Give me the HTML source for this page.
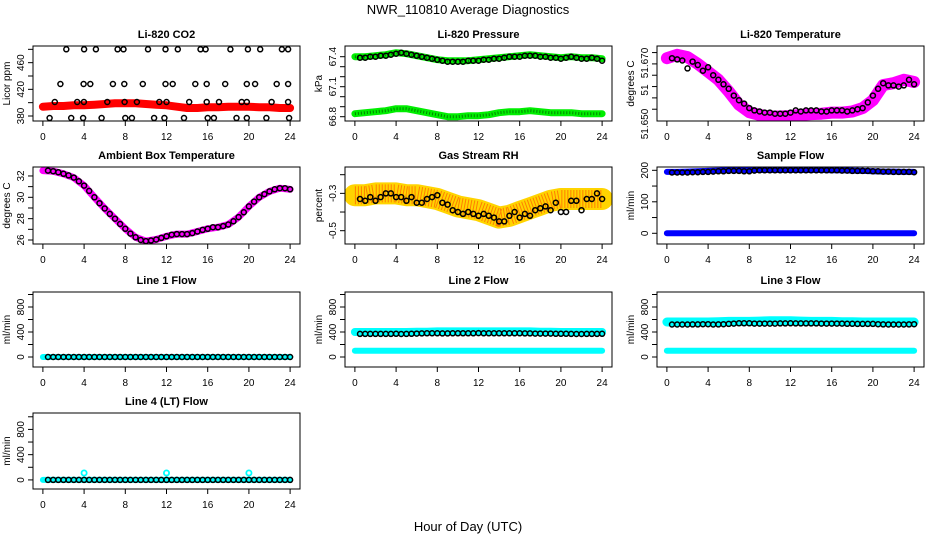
<!DOCTYPE html>
<html><head><meta charset="utf-8">
<style>
html,body{margin:0;padding:0;background:#fff;}
svg{display:block;font-family:"Liberation Sans",sans-serif;}
</style></head>
<body>
<svg id="chart" width="936" height="540" viewBox="0 0 936 540" xmlns="http://www.w3.org/2000/svg">
<text x="468" y="14" font-size="13" text-anchor="middle">NWR_110810  Average Diagnostics</text>
<text x="468" y="531" font-size="13" text-anchor="middle">Hour of Day (UTC)</text>
</svg>
<script>
// ---- data (hour-of-day values) ----
const hourTicks = [0,4,8,12,16,20,24];
const bandHours = [0,1,2,3,4,5,6,7,8,9,10,11,12,13,14,15,16,17,18,19,20,21,22,23,24];
const meanHours = [0.5,1,1.5,2,2.5,3,3.5,4,4.5,5,5.5,6,6.5,7,7.5,8,8.5,9,9.5,10,10.5,11,11.5,12,12.5,13,13.5,14,14.5,15,15.5,16,16.5,17,17.5,18,18.5,19,19.5,20,20.5,21,21.5,22,22.5,23,23.5,24];

const co2Band = [394,395,395,396,396,397,398,399,399,399,398,397,396,394,392,392,393,393,394,394,394,393,393,392,392];
const co2MeanHours = [2.27,4.0,5.15,7.25,7.83,10.2,11.9,13.1,15.3,15.8,18.2,19.9,21.1,23.2,23.8, 1.7,3.95,4.6,6.8,7.9,9.7,11.9,12.6,14.8,15.9,17.7,19.8,20.6,22.7,23.8, 1.16,3.33,3.98,6.25,7.93,9.13,11.3,12.0,14.2,15.9,17.1,19.3,19.8,22.2,23.8, 0.65,2.75,3.9,5.7,8.0,8.64,10.8,11.8,13.7,16.0,16.6,18.8,19.8,21.7,23.9];
const co2Mean = [480,480,480,480,480,480,480,480,480,480,480,480,480,480,480, 428,428,428,428,428,428,428,428,428,428,428,428,428,428,428, 401,401,401,401,401,401,401,401,401,401,401,401,401,401,401, 377,377,377,377,377,377,377,377,377,377,377,377,377,377,377];

const pressUpper = [67.40,67.40,67.41,67.42,67.44,67.43,67.41,67.39,67.37,67.36,67.36,67.36,67.37,67.38,67.39,67.40,67.41,67.42,67.41,67.40,67.39,67.40,67.39,67.39,67.38];
const pressLower = [66.83,66.84,66.85,66.86,66.88,66.88,66.86,66.84,66.82,66.80,66.80,66.81,66.81,66.82,66.84,66.85,66.85,66.86,66.85,66.84,66.84,66.84,66.83,66.83,66.83];
const pressMean = [67.39,67.39,67.40,67.40,67.41,67.41,67.42,67.43,67.44,67.43,67.42,67.41,67.40,67.39,67.38,67.37,67.36,67.35,67.35,67.35,67.35,67.36,67.36,67.36,67.37,67.37,67.38,67.38,67.39,67.40,67.40,67.40,67.41,67.41,67.41,67.40,67.40,67.39,67.39,67.38,67.39,67.40,67.39,67.38,67.38,67.39,67.38,67.36];

const tempBand = [51.6725,51.674,51.673,51.670,51.6665,51.663,51.6578,51.652,51.6487,51.6475,51.6468,51.6468,51.647,51.6475,51.6478,51.648,51.6485,51.6485,51.649,51.6505,51.654,51.6607,51.6615,51.663,51.662];
const tempMean = [51.6725,51.672,51.6715,51.668,51.671,51.6695,51.667,51.6685,51.665,51.663,51.661,51.659,51.656,51.654,51.6525,51.6505,51.6495,51.649,51.6485,51.6485,51.648,51.648,51.648,51.6485,51.6495,51.649,51.6495,51.6495,51.6495,51.649,51.649,51.6495,51.6495,51.6495,51.649,51.6495,51.650,51.6505,51.653,51.656,51.659,51.6615,51.6605,51.6605,51.660,51.6605,51.663,51.661];

const ambBand = [32.5,32.45,32.2,31.85,31.1,30.0,28.95,28.0,27.05,26.25,25.9,26.05,26.35,26.55,26.55,26.8,27.05,27.2,27.45,28.15,29.15,30.0,30.55,30.85,30.75];
const ambMean = [32.5,32.45,32.35,32.2,32.05,31.85,31.5,31.1,30.6,30.0,29.45,28.95,28.45,28.0,27.5,27.05,26.6,26.25,26.0,25.9,25.95,26.05,26.2,26.35,26.5,26.55,26.55,26.55,26.65,26.8,26.95,27.05,27.2,27.2,27.3,27.45,27.75,28.15,28.6,29.15,29.6,30.0,30.3,30.55,30.75,30.85,30.85,30.75];

const rhBand = [-0.31,-0.31,-0.30,-0.30,-0.30,-0.31,-0.31,-0.32,-0.33,-0.35,-0.37,-0.38,-0.39,-0.41,-0.43,-0.42,-0.40,-0.38,-0.36,-0.34,-0.33,-0.33,-0.33,-0.33,-0.33];
const rhMean = [-0.33,-0.34,-0.32,-0.34,-0.32,-0.30,-0.30,-0.32,-0.32,-0.34,-0.32,-0.35,-0.35,-0.33,-0.32,-0.31,-0.35,-0.36,-0.39,-0.40,-0.41,-0.40,-0.41,-0.42,-0.41,-0.42,-0.43,-0.45,-0.45,-0.42,-0.40,-0.43,-0.41,-0.42,-0.39,-0.38,-0.37,-0.39,-0.35,-0.40,-0.40,-0.34,-0.34,-0.39,-0.33,-0.33,-0.30,-0.33];

const sampleBand = [195,195,196,197,198,199,200,200,201,201,201,201,201,201,201,201,200,200,199,198,197,196,196,195,195];
const sampleZero = [0,0,0,0,0,0,0,0,0,0,0,0,0,0,0,0,0,0,0,0,0,0,0,0,0];
const sampleMean = [193,193,193,193,194,194,195,195,196,197,197,198,198,198,197,197,199,200,200,200,200,200,200,200,200,200,200,200,200,200,200,200,200,199,199,198,198,198,198,197,197,196,196,195,195,195,195,194];

const line1Band = [0,0,0,0,0,0,0,0,0,0,0,0,0,0,0,0,0,0,0,0,0,0,0,0,0];
const line1Mean = [0,0,0,0,0,0,0,0,0,0,0,0,0,0,0,0,0,0,0,0,0,0,0,0,0,0,0,0,0,0,0,0,0,0,0,0,0,0,0,0,0,0,0,0,0,0,0,0];
const line2Upper = [400,400,400,400,400,400,405,405,410,410,410,410,410,410,410,410,410,410,405,405,400,400,400,400,400];
const line2Lower = [100,100,100,100,100,100,100,100,100,100,100,100,100,100,100,100,100,100,100,100,100,100,100,100,100];
const line2Mean = [370,370,370,370,370,370,370,372,368,370,372,375,378,380,380,380,378,378,380,380,380,380,380,382,380,380,380,380,380,380,380,380,378,378,375,375,375,375,372,372,372,370,368,368,370,370,370,372];
const line3Upper = [560,560,560,560,560,565,570,570,570,575,580,580,580,575,570,570,570,565,565,560,560,560,560,560,560];
const line3Lower = [100,100,100,100,100,100,100,100,100,100,100,100,100,100,100,100,100,100,100,100,100,100,100,100,100];
const line3Mean = [520,520,520,520,522,522,525,525,520,522,525,530,535,540,540,540,535,535,535,535,535,538,538,540,538,538,538,538,538,535,535,535,535,535,532,532,530,530,530,530,525,522,520,520,520,520,522,525];
const line4Band = [0,0,0,0,0,0,0,0,0,0,0,0,0,0,0,0,0,0,0,0,0,0,0,0,0];
const line4Mean = [0,0,0,0,0,0,0,0,0,0,0,0,0,0,0,0,0,0,0,0,0,0,0,0,0,0,0,0,0,0,0,0,0,0,0,0,0,0,0,0,0,0,0,0,0,0,0,0];
const line4OutlierHours = [4,12,20];
const line4Outliers = [110,110,110];

// ---- drawing ----
const NS = "http://www.w3.org/2000/svg";
const svg = document.getElementById('chart');
function mk(tag, attrs, parent){ const e=document.createElementNS(NS,tag); for(const k in attrs) e.setAttribute(k,attrs[k]); (parent||svg).appendChild(e); return e; }

function panel(p){
  const g = mk('g',{});
  
  
  const L=p.left, R=p.left+267, T=p.top, B=p.bottom;
  const xs = h => L + (h + 0.96) / 25.92 * 267;
  const ys = v => B - (v - p.ymin) / (p.ymax - p.ymin) * (B - T);
  const cg = mk('g',{'clip-path':'url(#clip-'+p.name+')'}, g);
  const cp = mk('clipPath',{id:'clip-'+p.name}, g);
  mk('rect',{x:L,y:T,width:267,height:B-T}, cp);
  (p.bands||[]).forEach((b,bi)=>{
    const d = bandHours.map((h,i)=>(i?'L':'M')+xs(h).toFixed(1)+' '+ys(b.vals[i]).toFixed(1)).join(' ');
    const path = mk('path',{d:d,fill:'none',stroke:b.color,'stroke-width':b.w,'stroke-linecap':'round','stroke-linejoin':'round'}, cg);
    
    
    if(b.tex){
      const t = mk('path',{d:d,fill:'none',stroke:b.tex,'stroke-width':b.w-4,'stroke-dasharray':'1 2','stroke-linecap':'butt',opacity:b.texOp||0.8}, cg);
      
      
    }
  });
  (p.colorPts||[]).forEach(cpnt=>{
    cpnt.hours.forEach((h,i)=>{
      const c = mk('circle',{cx:xs(h),cy:ys(cpnt.vals[i]),r:2.6,fill:'none',stroke:cpnt.color,'stroke-width':1.8}, cg);
      
      
    });
  });
  const mh = p.meanHours || meanHours;
  p.mean.forEach((v,i)=>{
    const c = mk('circle',{cx:xs(mh[i]).toFixed(1),cy:ys(v).toFixed(1),r:2.5,fill:'none',stroke:'#000','stroke-width':1.5}, cg);
    
    
  });
  const box = mk('rect',{x:L,y:T,width:267,height:B-T,fill:'none',stroke:'#000','stroke-width':1}, g);
  
  
  const tt = mk('text',{x:(L+R)/2,y:T-8,'font-size':11,'font-weight':'bold','text-anchor':'middle'}, g);
  tt.textContent = p.title;
  
  
  hourTicks.forEach(h=>{
    mk('line',{x1:xs(h),x2:xs(h),y1:B,y2:B+5,stroke:'#000'}, g);
    const t = mk('text',{x:xs(h),y:B+19,'font-size':10,'text-anchor':'middle'}, g);
    t.textContent = h;
    
    
  });
  mk('line',{x1:xs(0),x2:xs(24),y1:B,y2:B,stroke:'#000'}, g);
  p.yticks.forEach(v=>{ mk('line',{x1:L-5,x2:L,y1:ys(v),y2:ys(v),stroke:'#000'}, g); });
  mk('line',{x1:L,x2:L,y1:ys(p.yticks[0]),y2:ys(p.yticks[p.yticks.length-1]),stroke:'#000'}, g);
  p.ylabels.forEach((lab,i)=>{
    const yy = p.ylabelPos ? p.ylabelPos[i] : ys(p.ylabelVals[i]);
    const t = mk('text',{x:0,y:0,'font-size':10,'text-anchor':'middle',transform:'translate('+(L-9)+','+yy+') rotate(-90)'}, g);
    t.textContent = lab;
    
    
  });
  const yt = mk('text',{x:0,y:0,'font-size':10,'text-anchor':'middle',transform:'translate('+(L-23)+','+((T+B)/2)+') rotate(-90)'}, g);
  yt.textContent = p.ytitle;
  
  
}

const C=[33,345,657];
const ROWS=[[46,121],[167,244],[292,367],[413,489]];
const flowTicks=[0,200,400,600,800,1000];

panel({name:'co2',title:'Li-820 CO2',left:C[0],top:ROWS[0][0],bottom:ROWS[0][1],ymin:372.5,ymax:485,
  yticks:[380,400,420,440,460,480],ylabels:['380','420','460'],ylabelVals:[380,420,460],ytitle:'Licor ppm',
  bands:[{vals:co2Band,color:'#ff0000',w:8}],meanHours:co2MeanHours,mean:co2Mean});
panel({name:'pressure',title:'Li-820 Pressure',left:C[1],top:ROWS[0][0],bottom:ROWS[0][1],ymin:66.757,ymax:67.507,
  yticks:[66.8,66.9,67.0,67.1,67.2,67.3,67.4],ylabels:['66.8','67.1','67.4'],ylabelVals:[66.8,67.1,67.4],ytitle:'kPa',
  bands:[{vals:pressUpper,color:'#00ee00',w:7,tex:'#006600'},{vals:pressLower,color:'#00ee00',w:7,tex:'#006600'}],mean:pressMean});
panel({name:'li820-temperature',title:'Li-820 Temperature',left:C[2],top:ROWS[0][0],bottom:ROWS[0][1],ymin:51.6448,ymax:51.6779,
  yticks:[51.650,51.655,51.660,51.665,51.670,51.675],ylabels:['51.650','51','51.670'],ylabelPos:[124,90,63],ytitle:'degrees C',
  bands:[{vals:tempBand,color:'#ff00ff',w:12}],mean:tempMean});
panel({name:'ambient-temperature',title:'Ambient Box Temperature',left:C[0],top:ROWS[1][0],bottom:ROWS[1][1],ymin:25.625,ymax:32.84,
  yticks:[26,27,28,29,30,31,32],ylabels:['26','28','30','32'],ylabelVals:[26,28,30,32],ytitle:'degrees C',
  bands:[{vals:ambBand,color:'#ff00ff',w:7}],mean:ambMean});
panel({name:'gas-rh',title:'Gas Stream RH',left:C[1],top:ROWS[1][0],bottom:ROWS[1][1],ymin:-0.5713,ymax:-0.1588,
  yticks:[-0.5,-0.4,-0.3,-0.2],ylabels:['-0.5','-0.3'],ylabelVals:[-0.5,-0.3],ytitle:'percent',
  bands:[{vals:rhBand,color:'#ffd400',w:22,tex:'#ff5a00',texOp:0.7}],mean:rhMean});
panel({name:'sample-flow',title:'Sample Flow',left:C[2],top:ROWS[1][0],bottom:ROWS[1][1],ymin:-34,ymax:210.5,
  yticks:[0,50,100,150,200],ylabels:['0','100','200'],ylabelVals:[0,100,200],ytitle:'ml/min',
  bands:[{vals:sampleBand,color:'#0000ff',w:6},{vals:sampleZero,color:'#0000ff',w:6}],mean:sampleMean});
panel({name:'line1-flow',title:'Line 1 Flow',left:C[0],top:ROWS[2][0],bottom:ROWS[2][1],ymin:-160,ymax:1040,
  yticks:flowTicks,ylabels:['0','400','800'],ylabelVals:[0,400,800],ytitle:'ml/min',
  bands:[{vals:line1Band,color:'#00ffff',w:6}],mean:line1Mean});
panel({name:'line2-flow',title:'Line 2 Flow',left:C[1],top:ROWS[2][0],bottom:ROWS[2][1],ymin:-160,ymax:1040,
  yticks:flowTicks,ylabels:['0','400','800'],ylabelVals:[0,400,800],ytitle:'ml/min',
  bands:[{vals:line2Upper,color:'#00ffff',w:8},{vals:line2Lower,color:'#00ffff',w:6}],mean:line2Mean});
panel({name:'line3-flow',title:'Line 3 Flow',left:C[2],top:ROWS[2][0],bottom:ROWS[2][1],ymin:-160,ymax:1040,
  yticks:flowTicks,ylabels:['0','400','800'],ylabelVals:[0,400,800],ytitle:'ml/min',
  bands:[{vals:line3Upper,color:'#00ffff',w:9},{vals:line3Lower,color:'#00ffff',w:6}],mean:line3Mean});
panel({name:'line4-flow',title:'Line 4 (LT) Flow',left:C[0],top:ROWS[3][0],bottom:ROWS[3][1],ymin:-144,ymax:1060,
  yticks:flowTicks,ylabels:['0','400','800'],ylabelVals:[0,400,800],ytitle:'ml/min',
  bands:[{vals:line4Band,color:'#00ffff',w:6}],colorPts:[{hours:line4OutlierHours,vals:line4Outliers,color:'#00ffff'}],mean:line4Mean});
</script>
</body></html>
